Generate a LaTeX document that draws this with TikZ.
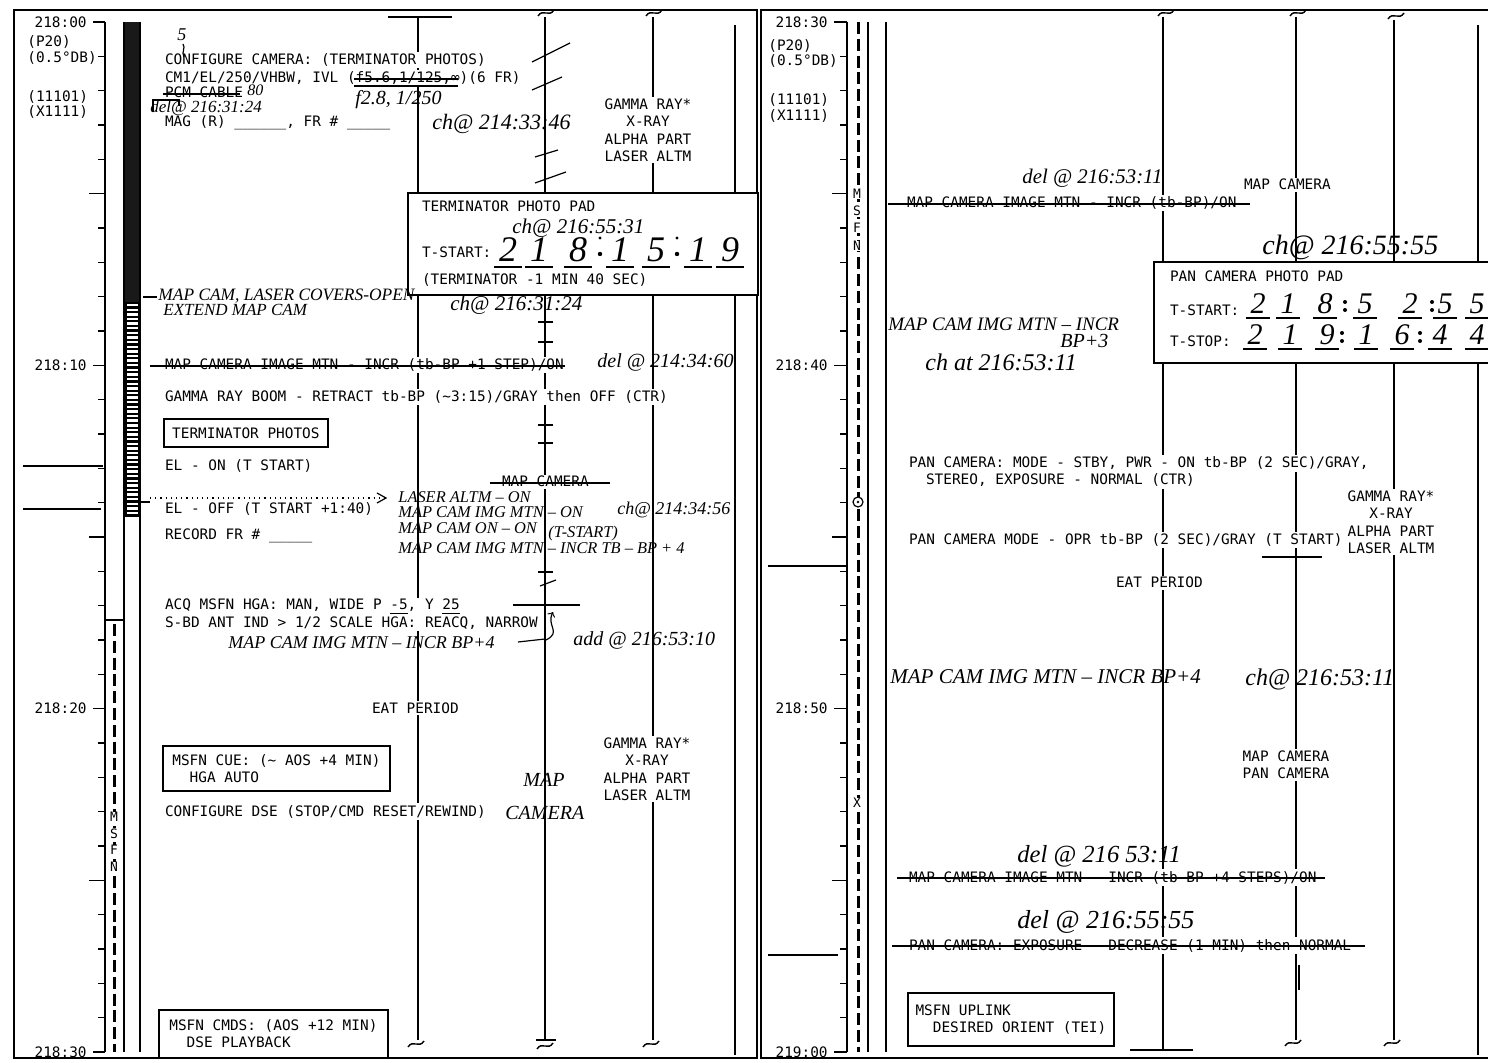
\documentclass[tikz,border=0pt]{standalone}
\usepackage{fontspec}
\setmonofont{DejaVu Sans Mono}
\newfontfamily\hand{Liberation Serif}
\begin{document}
\begin{tikzpicture}[x=0.5pt,y=-0.5pt,
  tt/.style={font=\ttfamily\fontsize{7.2}{8.65}\selectfont, fill=white, inner sep=0.8pt, anchor=base west},
  ttb/.style={font=\ttfamily\fontsize{7.2}{8.65}\selectfont, fill=white, inner sep=0.8pt, align=center, anchor=north},
  lbl/.style={font=\ttfamily\fontsize{7.2}{8}\selectfont, inner sep=0pt},
  hw/.style={font=\hand\itshape\fontsize{#1}{#1}\selectfont, inner sep=0pt, anchor=base west},
  hw/.default=10,
  dg/.style={font=\hand\itshape\fontsize{#1}{#1}\selectfont, inner sep=0pt, anchor=base},
  col/.style={line width=0.7pt},
  brd/.style={line width=1.2pt},
  tk/.style={line width=0.7pt},
  stk/.style={line width=0.6pt},
  boxn/.style={draw, line width=0.9pt, fill=white, anchor=north west, inner sep=0pt},
  boxt/.style={boxn, font=\ttfamily\fontsize{7.2}{8.65}\selectfont, align=left},
  tilde/.pic={\draw[line width=0.7pt] (-8,3) .. controls (-3,-5) and (3,5) .. (8,-3);}
]
\useasboundingbox (0,0) rectangle (1488,1063);
\clip (0,0) rectangle (1488,1063);
\fill[white] (0,0) rectangle (1488,1063);

% ---------------- frames
\draw[brd] (14,10) rectangle (757,1058);
\draw[brd] (1500,10) -- (761,10) -- (761,1058) -- (1500,1058);

% ---------------- left time axis
\draw[tk] (105,22) -- (105,1052);
\foreach \k in {1,2,3,4,6,7,8,9,11,12,13,14,16,17,18,19,21,22,23,24,26,27,28,29}
  \draw[tk] (98,{22+34.33*\k}) -- (105,{22+34.33*\k});
\foreach \k in {5,15,25}
  \draw[tk] (89,{22+34.33*\k}) -- (105,{22+34.33*\k});
\foreach \k/\t in {0/218:00,10/218:10,20/218:20,30/218:30}{
  \draw[tk] (93,{22+34.33*\k}) -- (105,{22+34.33*\k});
  \node[lbl, anchor=east] (tl\k) at (87,{22+34.33*\k}) {\t};
}
\node[lbl, anchor=west] (lp20) at (27,42) {(P20)};
\node[lbl, anchor=west] (ldb) at (27,58) {(0.5°DB)};
\node[lbl, anchor=west] (l11101) at (27,97) {(11101)};
\node[lbl, anchor=west] (lx1111) at (27,112) {(X1111)};
\draw[tk] (23,466) -- (103,466);
\draw[tk] (23,509) -- (101,509);

% activity bar
\fill[black!90] (124,22) rectangle (141,302);
\fill[black] (124,302) rectangle (141,517);
\foreach \i in {0,...,45}
  \fill[white] (127,{304+4.62*\i}) rectangle (138,{306.4+4.62*\i});
\draw[tk] (124,22) -- (124,1052);
\draw[tk] (140,22) -- (140,1052);
% MSFN bar
\draw[tk] (105,620) -- (124,620);
\draw[line width=1.5pt, dash pattern=on 6pt off 2.4pt] (114,624) -- (114,1052);
\foreach \l/\yy in {M/817,S/834,F/850,N/867}
  \node[font=\ttfamily\fontsize{6.5}{7}\selectfont, fill=white, inner sep=0.3pt] (lm\l) at (114,\yy) {\l};

% ---------------- left activity columns
\draw[col] (388,17) -- (452,17);
\draw[col] (418,17) -- (418,1040);
\pic at (416,1044) {tilde};
\draw[col] (545,17) -- (545,1040);
\pic at (546,13) {tilde};
\draw[col] (536,1040) -- (556,1040);
\pic at (545,1046) {tilde};
\draw[col] (653,17) -- (653,1040);
\pic at (654,13) {tilde};
\pic at (651,1044) {tilde};
\draw[col] (735,25) -- (735,1055);
% slashes / ticks on map camera line
\draw[stk] (532,62) -- (570,43);
\draw[stk] (532,90) -- (562,77);
\draw[stk] (535,157) -- (558,150);
\draw[stk] (535,183) -- (566,172);
\foreach \yy in {322,342,425,443,572}
  \draw[stk] (538,\yy) -- (553,\yy);
\draw[stk] (540,586) -- (556,580);
\draw[col] (513,605) -- (580,605);

% ---------------- left typed text
\node[tt] (cfg) at (163,65) {CONFIGURE CAMERA: (TERMINATOR PHOTOS)};
\node[tt] (cm1) at (163,83) {CM1/EL/250/VHBW, IVL (f5.6,1/125,∞)(6 FR)};
\node[tt] (pcm) at (163,98) {PCM CABLE};
\node[tt] (mag) at (163,127) {MAG (R) \_\_\_\_\_\_, FR \# \_\_\_\_\_};
\node[ttb] (sci1) at (648,97) {GAMMA RAY*\\X-RAY\\ALPHA PART\\LASER ALTM};

% terminator photo pad
\node[boxn, minimum width=175pt, minimum height=51pt] (tpad) at (407,192) {};
\node[tt, fill=none] (tpt) at (420,212) {TERMINATOR PHOTO PAD};
\node[tt, fill=none] (tst) at (420,258) {T-START:};
\node[tt, fill=none] (tcm) at (420,285) {(TERMINATOR -1 MIN 40 SEC)};

\node[tt] (mcim) at (163,370) {MAP CAMERA IMAGE MTN - INCR (tb-BP +1 STEP)/ON};
\node[tt] (grb) at (163,402) {GAMMA RAY BOOM - RETRACT tb-BP (\textasciitilde3:15)/GRAY then OFF (CTR)};
\node[boxn, font=\ttfamily\fontsize{7.2}{8.65}\selectfont, minimum width=82pt, minimum height=14pt] (tphot) at (163,418) {TERMINATOR PHOTOS};
\node[tt] (elon) at (163,471) {EL - ON (T START)};
\node[tt] (eloff) at (163,514) {EL - OFF (T START +1:40)};
\node[tt] (rec) at (163,540) {RECORD FR \# \_\_\_\_\_};
\node[tt] (mcam1) at (500,487) {MAP CAMERA};
\node[tt] (acq) at (163,610) {ACQ MSFN HGA: MAN, WIDE P \underline{-5}, Y \underline{25}};
\node[tt] (sbd) at (163,627) {S-BD ANT IND > 1/2 SCALE HGA: REACQ, NARROW};
\node[tt] (eat1) at (370,713) {EAT PERIOD};
\node[boxt, minimum width=113.5pt, minimum height=22.5pt] (cue) at (162,745) {MSFN CUE: (\textasciitilde{} AOS +4 MIN)\\\phantom{XX}HGA AUTO};
\node[tt] (dse) at (163,816) {CONFIGURE DSE (STOP/CMD RESET/REWIND)};
\node[ttb] (sci2) at (647,736) {GAMMA RAY*\\X-RAY\\ALPHA PART\\LASER ALTM};
\node[boxt, minimum width=114.5pt, minimum height=24pt] (cmds) at (158,1009) {MSFN CMDS: (AOS +12 MIN)\\\phantom{XX}DSE PLAYBACK};

% strikes (left)
\draw[stk] (163,94) -- (240,94);
\draw[stk] (354,79) -- (458,79);
\draw[stk] (354,86) -- (458,86);
\draw[stk] (150,366) -- (565,366);
\draw[stk] (490,483) -- (610,483);
% dotted arrow
\draw[line width=0.6pt, dotted] (150,498) -- (385,498);
\draw[line width=0.6pt] (377,493) -- (386,498) -- (377,503);
\draw[stk] (140,502) -- (150,502);

% ---------------- left handwriting
\node[hw=9] (h5) at (177,41) {5};
\draw[stk] (183,44) .. controls (186,48) and (181,52) .. (184,57);
\node[hw=8] (h80) at (247,96) {80};
\draw[stk] (153,112) -- (153,100) -- (179,100) -- (179,106);
\node[hw=8.5] (hdel1) at (150,113) {del@ 216:31:24};
\node[hw=10] (hf28) at (355,105) {f2.8, 1/250};
\node[hw=11] (hch1) at (432,130) {ch@ 214:33:46};
\node[hw=10.5] (hch2) at (512,234) {ch@ 216:55:31};
\foreach \x/\d in {508/2,539/1,578/8,620/1,656/5,698/1,730/9}{
  \node[dg=18] (td\x) at (\x,262) {\d};
  \draw[stk] ({\x-14},267) -- ({\x+14},267);
}
\foreach \x in {600,677}{
  \fill (\x,254) circle (2.2);
  \fill (\x,238) circle (1.6);
}
\draw[stk] (143,297) -- (157,297);
\node[hw=8.7] (hcov) at (158,301) {MAP CAM, LASER COVERS-OPEN};
\node[hw=8.5] (hext) at (163,316) {EXTEND MAP CAM};
\node[hw=10.5] (hch3) at (450,311) {ch@ 216:31:24};
\node[hw=10] (hdel2) at (597,368) {del @ 214:34:60};
\node[hw=8.2] (hla) at (398,503) {LASER ALTM – ON};
\node[hw=8.2] (hmi) at (398,518) {MAP CAM IMG MTN – ON};
\node[hw=8.2] (hmo) at (398,534) {MAP CAM ON – ON};
\node[hw=8.2] (hmn) at (398,553) {MAP CAM IMG MTN – INCR TB – BP + 4};
\node[hw=8.2] (hts) at (548,538) {(T-START)};
\node[hw=9] (hch4) at (617,515) {ch@ 214:34:56};
\draw[stk, ->] (546,640) .. controls (562,632) and (546,626) .. (553,612);
\node[hw=9] (hmap1) at (228,648) {MAP CAM IMG MTN – INCR BP+4};
\draw[stk] (518,642) -- (545,639);
\node[hw=10] (hadd) at (573,645) {add @ 216:53:10};
\node[hw=10] (hmap2) at (523,786) {MAP};
\node[hw=10] (hmap3) at (505,819) {CAMERA};

% ---------------- right time axis
\draw[tk] (847,22) -- (847,1052);
\foreach \k in {1,2,3,4,6,7,8,9,11,12,13,14,16,17,18,19,21,22,23,24,26,27,28,29}
  \draw[tk] (840,{22+34.33*\k}) -- (847,{22+34.33*\k});
\foreach \k in {5,15,25}
  \draw[tk] (832,{22+34.33*\k}) -- (847,{22+34.33*\k});
\foreach \k/\t in {0/218:30,10/218:40,20/218:50,30/219:00}{
  \draw[tk] (834,{22+34.33*\k}) -- (847,{22+34.33*\k});
  \node[lbl, anchor=east] (tr\k) at (828,{22+34.33*\k}) {\t};
}
\node[lbl, anchor=west] (rp20) at (768,46) {(P20)};
\node[lbl, anchor=west] (rdb) at (768,61) {(0.5°DB)};
\node[lbl, anchor=west] (r11101) at (768,100) {(11101)};
\node[lbl, anchor=west] (rx1111) at (768,116) {(X1111)};
\draw[tk] (768,566) -- (847,566);
\draw[tk] (768,955) -- (838,955);
\draw[line width=1.5pt, dash pattern=on 6pt off 2.4pt] (858,22) -- (858,1052);
\draw[tk] (868,22) -- (868,1052);
\draw[tk] (886,22) -- (886,1052);
\foreach \l/\yy in {M/194,S/211,F/228,N/246}
  \node[font=\ttfamily\fontsize{6.5}{7}\selectfont, fill=white, inner sep=0.3pt] (rm\l) at (857,\yy) {\l};
\node[draw, circle, fill=white, line width=0.6pt, minimum size=5pt, inner sep=0pt] (aos) at (858,502) {};
\fill (aos.center) circle (1.3);
\node[font=\ttfamily\fontsize{6.5}{7}\selectfont, fill=white, inner sep=0.3pt] (los) at (857,803) {X};

% ---------------- right activity columns
\draw[col] (1163,17) -- (1163,1050);
\pic at (1166,13) {tilde};
\draw[col] (1130,1050) -- (1193,1050);
\draw[col] (1296,17) -- (1296,1040);
\pic at (1298,13) {tilde};
\pic at (1293,1043) {tilde};
\draw[col] (1299,965) -- (1299,990);
\draw[col] (1394,20) -- (1394,1040);
\pic at (1396,16) {tilde};
\pic at (1392,1043) {tilde};
\draw[col] (1478,25) -- (1478,1055);

% ---------------- right typed text
\node[tt] (rmc) at (1242,190) {MAP CAMERA};
\node[tt] (rmim) at (905,208) {MAP CAMERA IMAGE MTN - INCR (tb-BP)/ON};
\node[boxn, minimum width=175pt, minimum height=50.5pt] (ppad) at (1153,261) {};
\node[tt, fill=none] (ppt) at (1168,282) {PAN CAMERA PHOTO PAD};
\node[tt, fill=none] (pst) at (1168,316) {T-START:};
\node[tt, fill=none] (psp) at (1168,347) {T-STOP:};
\node[tt] (pan1) at (907,468) {PAN CAMERA: MODE - STBY, PWR - ON tb-BP (2 SEC)/GRAY,};
\node[tt] (pan2) at (924,485) {STEREO, EXPOSURE - NORMAL (CTR)};
\node[tt] (pan3) at (907,545) {PAN CAMERA MODE - OPR tb-BP (2 SEC)/GRAY (T START)};
\draw[stk] (1262,557) -- (1322,557);
\node[ttb] (sci3) at (1391,489) {GAMMA RAY*\\X-RAY\\ALPHA PART\\LASER ALTM};
\node[tt] (eat2) at (1114,588) {EAT PERIOD};
\node[ttb] (cams) at (1286,749) {MAP CAMERA\\PAN CAMERA};
\node[tt] (rmim2) at (907,882) {MAP CAMERA IMAGE MTN - INCR (tb-BP +4 STEPS)/ON};
\node[tt] (pexp) at (907,950) {PAN CAMERA: EXPOSURE - DECREASE (1 MIN) then NORMAL};
\node[boxt, minimum width=103pt, minimum height=26.5pt] (upl) at (907,992) {MSFN UPLINK\\\phantom{XX}DESIRED ORIENT (TEI)};

% strikes (right)
\draw[stk] (888,204) -- (1250,204);
\draw[stk] (897,878) -- (1325,878);
\draw[stk] (892,946) -- (1365,946);

% ---------------- right handwriting
\node[hw=10.4] (rdel1) at (1022,184) {del @ 216:53:11};
\node[hw=14] (rch1) at (1262,255) {ch@ 216:55:55};
\foreach \x/\d in {1258/2,1288/1,1325/8,1365/5,1410/2,1445/5,1477/5}{
  \node[dg=15] (ps\x) at (\x,314) {\d};
  \draw[stk] ({\x-12},318) -- ({\x+12},318);
}
\foreach \x/\d in {1255/2,1290/1,1327/9,1366/1,1402/6,1440/4,1477/4}{
  \node[dg=15] (pt\x) at (\x,345) {\d};
  \draw[stk] ({\x-12},349) -- ({\x+12},349);
}
\foreach \x/\yy in {1345/314,1432/314,1342/345,1420/345}{
  \fill (\x,{\yy-4}) circle (2);
  \fill (\x,{\yy-12}) circle (2);
}
\node[hw=9.5] (rmi1) at (888,331) {MAP CAM IMG MTN – INCR};
\node[hw=10] (rbp3) at (1060,348) {BP+3};
\node[hw=12] (rch2) at (925,371) {ch at 216:53:11};
\node[hw=10.5] (rmi2) at (890,683) {MAP CAM IMG MTN – INCR BP+4};
\node[hw=12] (rch3) at (1245,685) {ch@ 216:53:11};
\node[hw=12.3] (rdel2) at (1017,862) {del @ 216 53:11};
\node[hw=13] (rdel3) at (1017,928) {del @ 216:55:55};

\end{tikzpicture}
\end{document}
